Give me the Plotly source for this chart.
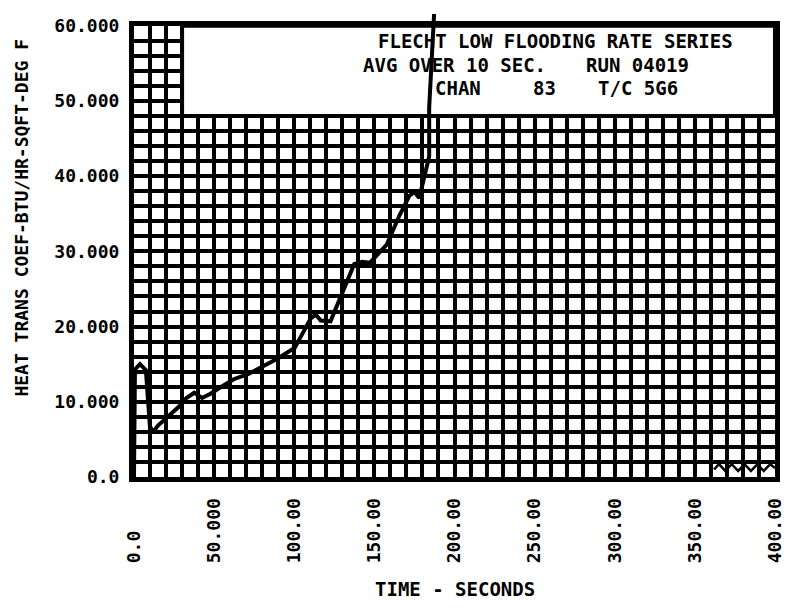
import plotly.graph_objects as go

# ---- data ----
time_s = [0, 0.6, 3.7, 7.4, 9.9, 11.7, 14.8, 28.3, 32.7, 37.6, 42.5, 48, 53, 62.2,
          71.5, 78.9, 90, 100.4, 110.3, 113.4, 116.5, 122.6, 128.8, 137.4, 142.3,
          147.3, 157.7, 165.7, 171.9, 175, 178, 182.4, 184.2, 184.2, 186.7, 187.3]
htc = [0, 14.3, 15.0, 14.2, 6.8, 5.9, 6.8, 9.4, 10.5, 11.2, 10.5, 11.1, 11.8, 13.0,
       13.7, 14.5, 15.8, 17.2, 21.1, 21.6, 20.8, 20.7, 24.0, 28.3, 28.6,
       28.5, 30.9, 34.8, 37.4, 37.9, 37.1, 40.9, 42.6, 49.1, 57.8, 61.7]

tail_t = [362, 365, 369, 373, 377, 381, 385, 389, 393, 397, 400]
tail_h = [1.0, 1.7, 0.8, 1.7, 0.8, 1.7, 0.8, 1.7, 0.8, 1.7, 1.2]

x_ticks = [0, 50, 100, 150, 200, 250, 300, 350, 400]
x_labels = ["0.0", "50.000", "100.00", "150.00", "200.00", "250.00", "300.00", "350.00", "400.00"]
y_ticks = [0, 10, 20, 30, 40, 50, 60]
y_labels = ["0.0", "10.000", "20.000", "30.000", "40.000", "50.000", "60.000"]

title_lines = [
    ("FLECHT LOW FLOODING RATE SERIES", 561, 31),
    ("AVG OVER 10 SEC.", 459, 55),
    ("RUN 04019", 644, 55),
    ("CHAN", 462, 79),
    ("83", 550, 79),
    ("T/C 5G6", 644, 79),
]

# ---- layout geometry ----
W, H = 788, 609
L, R, T, B = 134, 5, 3, 132
PW, PH = W - L - R, H - T - B
frame_top_px = 15
ydom_top = (H - B - frame_top_px) / PH
y2_max = 60 / ydom_top

def px(xp):
    return (xp - L) / PW

def py(yp):
    return (H - B - yp) / PH

FONT = "DejaVu Sans Mono"
pad = max(len(s) for s in x_labels)
x_text = [s + "\u00a0" * (pad - len(s)) for s in x_labels]

fig = go.Figure()
fig.add_trace(go.Scatter(x=tail_t, y=tail_h, mode="lines",
                         line=dict(color="black", width=2.5),
                         xaxis="x", yaxis="y", showlegend=False, hoverinfo="skip"))
fig.add_trace(go.Scatter(x=time_s, y=htc, mode="lines",
                         line=dict(color="black", width=4),
                         xaxis="x2", yaxis="y2", showlegend=False))

fig.add_shape(type="rect", xref="x", yref="y", x0=30, x1=400, y0=48, y1=60,
              fillcolor="white", line=dict(color="black", width=4), layer="between")

tickfont = dict(family=FONT, size=18, color="black", weight="bold")
fig.update_layout(
    width=W, height=H,
    margin=dict(l=L, r=R, t=T, b=B),
    paper_bgcolor="white", plot_bgcolor="rgba(0,0,0,0)",
    showlegend=False,
    xaxis=dict(range=[0, 400], domain=[0, 1], anchor="y",
               tickmode="array", tickvals=x_ticks, ticktext=x_text, tickangle=-90,
               tickfont=tickfont, ticks="", ticklabelstandoff=9,
               ticklabeloverflow="allow",
               showgrid=True, gridcolor="black", gridwidth=4,
               minor=dict(dtick=10, showgrid=True, gridcolor="black", gridwidth=4),
               showline=True, linecolor="black", linewidth=5, mirror=True,
               zeroline=False, fixedrange=True),
    yaxis=dict(range=[0, 60], domain=[0, ydom_top], anchor="x",
               tickmode="array", tickvals=y_ticks, ticktext=y_labels,
               tickfont=tickfont, ticks="", ticklabelstandoff=6,
               ticklabeloverflow="allow",
               showgrid=True, gridcolor="black", gridwidth=4,
               minor=dict(dtick=2, showgrid=True, gridcolor="black", gridwidth=4),
               showline=True, linecolor="black", linewidth=5, mirror=True,
               zeroline=False, fixedrange=True),
    xaxis2=dict(range=[0, 400], domain=[0, 1], anchor="y2", visible=False, fixedrange=True),
    yaxis2=dict(range=[0, y2_max], domain=[0, 1], anchor="x2", visible=False, fixedrange=True),
)

annots = []
for text, cx, cy in title_lines:
    annots.append(dict(text=text, xref="paper", yref="paper", x=px(cx), y=py(cy),
                       xanchor="center", yanchor="middle", showarrow=False,
                       font=dict(family=FONT, size=19, color="black", weight="bold")))
annots.append(dict(text="HEAT TRANS COEF-BTU/HR-SQFT-DEG F", xref="paper", yref="paper",
                   x=px(20), y=py(211), textangle=-90, xanchor="center", yanchor="middle",
                   showarrow=False,
                   font=dict(family=FONT, size=18, color="black", weight="bold")))
annots.append(dict(text="TIME - SECONDS", xref="paper", yref="paper",
                   x=px(459), y=py(592), xanchor="center", yanchor="middle",
                   showarrow=False,
                   font=dict(family=FONT, size=19, color="black", weight="bold")))
fig.update_layout(annotations=annots)

fig.write_html("out.html", config={"displayModeBar": False},
               post_script="document.body.style.margin='0';document.body.style.padding='0';")
